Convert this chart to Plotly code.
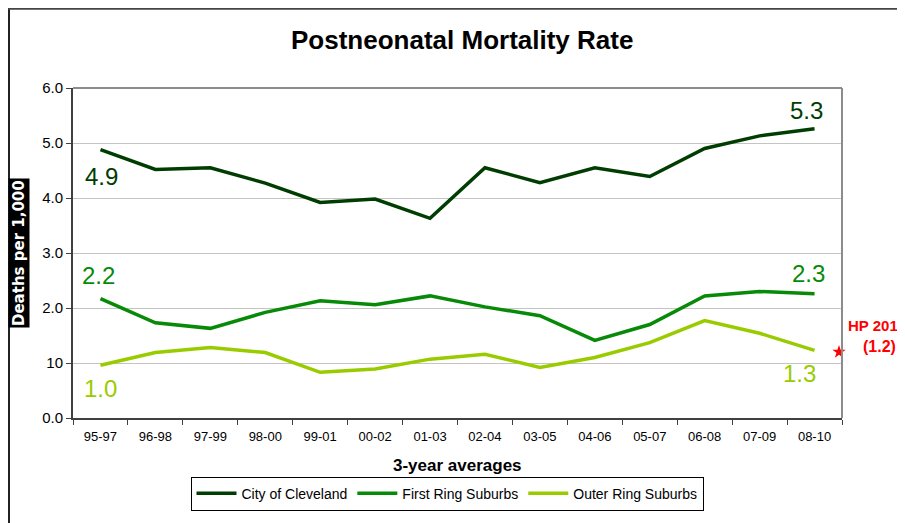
import plotly.graph_objects as go

categories = ["95-97", "96-98", "97-99", "98-00", "99-01", "00-02", "01-03",
              "02-04", "03-05", "04-06", "05-07", "06-08", "07-09", "08-10"]
cleveland = [4.88, 4.52, 4.55, 4.27, 3.92, 3.98, 3.63, 4.55, 4.28, 4.55, 4.39, 4.90, 5.13, 5.26]
first_ring = [2.17, 1.73, 1.63, 1.92, 2.13, 2.06, 2.22, 2.02, 1.86, 1.41, 1.70, 2.22, 2.30, 2.26]
outer_ring = [0.96, 1.19, 1.28, 1.19, 0.83, 0.89, 1.07, 1.16, 0.92, 1.10, 1.37, 1.77, 1.54, 1.23]
ytick_vals = [0, 1, 2, 3, 4, 5, 6]
ytick_text = ["0.0", "10", "2.0", "3.0", "4.0", "5.0", "6.0"]
hp_target = 1.2

c_clev = "#003d00"
c_first = "#078a07"
c_outer = "#99cc00"
FONT = "Liberation Sans, Arial, sans-serif"

# page is rendered with an 8px body margin; plot area spans page x 73..842, y 88..420
PX0, PX1, PY0, PY1 = 73, 842, 88, 420
def px(x):
    return (x - PX0) / (PX1 - PX0)
def py(y):
    return (PY1 - y) / (PY1 - PY0)

fig = go.Figure()
for name, vals, col in [("City of Cleveland", cleveland, c_clev),
                        ("First Ring Suburbs", first_ring, c_first),
                        ("Outer Ring Suburbs", outer_ring, c_outer)]:
    fig.add_trace(go.Scatter(x=categories, y=vals, mode="lines", name=name,
                             line=dict(color=col, width=3.5)))

# HP 2010 target star
fig.add_trace(go.Scatter(x=[px(839)], y=[hp_target], xaxis="x2", mode="markers",
                         marker=dict(symbol="star", size=10, color="#ff0000"),
                         showlegend=False, cliponaxis=False))

ann = []
def lab(x, y, text, col, ys, xs=0):
    ann.append(dict(x=x, y=y, text=text, showarrow=False, xshift=xs, yshift=ys,
                    xanchor="center", yanchor="middle",
                    font=dict(size=24, color=col, family=FONT)))

lab(categories[0], cleveland[0], "4.9", c_clev, -27, 1)
lab(categories[-1], cleveland[-1], "5.3", c_clev, 18, -8)
lab(categories[0], first_ring[0], "2.2", c_first, 23, -2)
lab(categories[-1], first_ring[-1], "2.3", c_first, 20, -6)
lab(categories[0], outer_ring[0], "1.0", c_outer, -23, 0)
lab(categories[-1], outer_ring[-1], "1.3", c_outer, -23, -15)

ann.append(dict(xref="paper", yref="paper", x=px(846), y=py(327), text="<b>HP 2010</b>",
                showarrow=False, xanchor="left", yanchor="middle",
                font=dict(size=15, color="#ff0000", family=FONT)))
ann.append(dict(xref="paper", yref="paper", x=px(879), y=py(348), text="<b>(1.2)</b>",
                showarrow=False, xanchor="center", yanchor="middle",
                font=dict(size=16, color="#ff0000", family=FONT)))
ann.append(dict(xref="paper", yref="paper", x=px(462), y=py(40), text="<b>Postneonatal Mortality Rate</b>",
                showarrow=False, xanchor="center", yanchor="middle",
                font=dict(size=26, color="black", family=FONT)))
ann.append(dict(xref="paper", yref="paper", x=px(457), y=py(468),
                text="<b>3-year averages</b>", showarrow=False, xanchor="center", yanchor="middle",
                font=dict(size=17, color="black", family=FONT)))
ann.append(dict(xref="paper", yref="paper", x=px(19), y=py(254),
                text="<b>Deaths per 1,000</b>", showarrow=False, textangle=-90,
                xanchor="center", yanchor="middle", bgcolor="black", borderpad=1,
                font=dict(size=15, color="white", family="DejaVu Sans, sans-serif")))

shapes = [
    # plot frame top/right
    dict(type="line", xref="paper", yref="paper", x0=0, x1=1, y0=1, y1=1, line=dict(color="#8c8c8c", width=2)),
    dict(type="line", xref="paper", yref="paper", x0=1, x1=1, y0=0, y1=1, line=dict(color="#8c8c8c", width=2)),
    # outer chart border
    dict(type="line", xref="paper", yref="paper", x0=px(9), x1=px(9),
         y0=py(540), y1=py(8), line=dict(color="#222222", width=2)),
    dict(type="line", xref="paper", yref="paper", x0=px(8), x1=px(920),
         y0=py(8), y1=py(8), line=dict(color="#444444", width=2.5)),
]

fig.update_layout(
    width=897, height=515,
    margin=dict(l=PX0 - 8, r=905 - PX1, t=PY0 - 8, b=523 - PY1),
    paper_bgcolor="white", plot_bgcolor="white",
    font=dict(family=FONT, size=13, color="black"),
    showlegend=True,
    legend=dict(orientation="h", x=px(447), xanchor="center", y=py(479), yanchor="top",
                bordercolor="black", borderwidth=1, font=dict(size=14, family=FONT),
                itemwidth=40, tracegroupgap=0),
    xaxis=dict(type="category", showgrid=False, showline=True, linecolor="#404040", linewidth=2,
               ticks="outside", tickson="boundaries", ticklen=5, tickcolor="#404040",
               tickfont=dict(size=13), ticklabelstandoff=5, range=[-0.5, 13.5], fixedrange=True),
    xaxis2=dict(overlaying="x", range=[0, 1], visible=False),
    yaxis=dict(range=[0, 6], tickvals=ytick_vals, ticktext=ytick_text, showgrid=True,
               gridcolor="#c4c4c4", gridwidth=1, showline=True, linecolor="#404040", linewidth=2,
               ticks="outside", ticklen=5, tickcolor="#404040", tickfont=dict(size=15),
               zeroline=False),
    annotations=ann,
    shapes=shapes,
)

fig.write_html("out.html")
